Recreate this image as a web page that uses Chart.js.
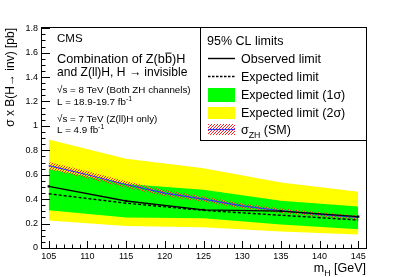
<!DOCTYPE html>
<html>
<head>
<meta charset="utf-8">
<script src="https://cdn.jsdelivr.net/npm/chart.js@4/dist/chart.umd.min.js"></script>
<style>
  html, body { margin: 0; padding: 0; background: #fff; }
  canvas { display: block; }
</style>
</head>
<body>
<canvas id="c" width="407" height="277"></canvas>
<script>
// values
const masses = [105, 115, 125, 135, 145];
const observed = [0.505, 0.385, 0.312, 0.302, 0.257];
const expected = [0.444, 0.367, 0.308, 0.268, 0.229];
const oneSigmaUp = [0.647, 0.525, 0.477, 0.386, 0.34];
const oneSigmaDown = [0.31, 0.25, 0.244, 0.192, 0.154];
const twoSigmaUp = [0.888, 0.73, 0.653, 0.537, 0.46];
const twoSigmaDown = [0.225, 0.18, 0.17, 0.135, 0.11];

const smMasses = [105, 110, 115, 120, 125, 130, 135, 140, 145];
const smXsec = [0.675, 0.6, 0.52, 0.45, 0.4, 0.345, 0.305, 0.275, 0.25];
const smUnc = [0.03, 0.028, 0.026, 0.024, 0.022, 0.02, 0.018, 0.017, 0.016];

const xTicks = [105, 110, 115, 120, 125, 130, 135, 140, 145];
const yTicks = [0, 0.2, 0.4, 0.6, 0.8, 1, 1.2, 1.4, 1.6, 1.8];

const FONT = '"Liberation Sans", Arial, sans-serif';

const pts = (xs, ys) => xs.map((x, i) => ({ x, y: ys[i] }));

// red "////" hatch, built pixel by pixel so it stays crisp
function hatch() {
  const n = 3;
  const c = document.createElement('canvas');
  c.width = n; c.height = n;
  const g = c.getContext('2d');
  const img = g.createImageData(n, n);
  for (let yy = 0; yy < n; yy++) {
    for (let xx = 0; xx < n; xx++) {
      if ((xx + yy) % n === n - 1) {
        const k = (yy * n + xx) * 4;
        img.data[k] = 255; img.data[k + 1] = 30; img.data[k + 2] = 30; img.data[k + 3] = 255;
      }
    }
  }
  g.putImageData(img, 0, 0);
  return g.createPattern(c, 'repeat');
}

// text with sub/superscripts and overline, left aligned at x
function rich(ctx, x, y, parts, size) {
  let cx = x;
  parts.forEach(p => {
    const s = p.sub || p.sup ? size * 0.7 : size;
    ctx.font = `${s}px ${FONT}`;
    let dy = 0;
    if (p.sub) dy = size * 0.3;
    if (p.sup) dy = -size * 0.4;
    ctx.fillText(p.t, cx, y + dy);
    const w = ctx.measureText(p.t).width;
    if (p.over) {
      ctx.fillRect(cx + 0.5, y - size * 0.82, w - 1, 1);
    }
    cx += w;
  });
  return cx;
}

function richWidth(ctx, parts, size) {
  let w = 0;
  parts.forEach(p => {
    const s = p.sub || p.sup ? size * 0.7 : size;
    ctx.font = `${s}px ${FONT}`;
    w += ctx.measureText(p.t).width;
  });
  return w;
}

const decor = {
  id: 'decor',
  afterDraw(chart) {
    const { ctx, chartArea: a, scales: { x, y } } = chart;
    ctx.save();
    ctx.fillStyle = '#000';
    ctx.strokeStyle = '#000';

    // frame
    ctx.lineWidth = 1;
    ctx.strokeRect(Math.round(a.left) + 0.5, Math.round(a.top) + 0.5,
      Math.round(a.right - a.left), Math.round(a.bottom - a.top));

    // x ticks
    ctx.beginPath();
    for (let v = Math.ceil(x.min); v <= x.max; v++) {
      const px = Math.round(x.getPixelForValue(v)) + 0.5;
      const len = v % 5 === 0 ? 7 : 3.5;
      ctx.moveTo(px, a.bottom);
      ctx.lineTo(px, a.bottom - len);
    }
    // y ticks
    for (let v = 0; v <= y.max + 1e-6; v += 0.05) {
      const py = Math.round(y.getPixelForValue(v)) + 0.5;
      const major = Math.abs(v / 0.2 - Math.round(v / 0.2)) < 1e-6;
      ctx.moveTo(a.left, py);
      ctx.lineTo(a.left + (major ? 9 : 4.5), py);
    }
    ctx.stroke();

    ctx.font = `9px ${FONT}`;
    ctx.textAlign = 'center';
    ctx.textBaseline = 'top';
    xTicks.forEach(v => ctx.fillText(String(v), x.getPixelForValue(v), a.bottom + 4));
    ctx.textAlign = 'right';
    ctx.textBaseline = 'middle';
    yTicks.forEach(v => ctx.fillText(String(v), a.left - 3, y.getPixelForValue(v)));

    // axis titles
    ctx.textBaseline = 'alphabetic';
    ctx.textAlign = 'left';
    const xt = [{ t: 'm' }, { t: 'H', sub: true }, { t: ' [GeV]' }];
    rich(ctx, a.right - richWidth(ctx, xt, 12.5), 272, xt, 12.5);

    ctx.save();
    ctx.translate(14, a.top + 1);
    ctx.rotate(-Math.PI / 2);
    const yt = [{ t: 'σ x B(H→ inv) [pb]' }];
    rich(ctx, -richWidth(ctx, yt, 12), 0, yt, 12);
    ctx.restore();

    // text block
    rich(ctx, 57, 42, [{ t: 'CMS' }], 11.5);
    rich(ctx, 57, 63, [{ t: 'Combination of Z(b' }, { t: 'b', over: true }, { t: ')H' }], 12.7);
    rich(ctx, 57, 75.5, [{ t: 'and Z(ll)H, H → invisible' }], 12.1);
    rich(ctx, 57, 93, [{ t: '√s = 8 TeV (Both ZH channels)' }], 9.8);
    rich(ctx, 57, 105, [{ t: 'L = 18.9-19.7 fb' }, { t: '-1', sup: true }], 9.8);
    rich(ctx, 57, 121.5, [{ t: '√s = 7 TeV (Z(ll)H only)' }], 9.8);
    rich(ctx, 57, 133, [{ t: 'L = 4.9 fb' }, { t: '-1', sup: true }], 9.8);

    // legend
    const lx = 200, ly = Math.round(a.top) + 0.5, lr = Math.round(a.right) + 0.5, lb = 140.5;
    ctx.fillStyle = '#fff';
    ctx.fillRect(lx, ly, lr - lx, lb - ly);
    ctx.strokeStyle = '#000';
    ctx.lineWidth = 1;
    ctx.strokeRect(lx + 0.5, ly, lr - lx - 0.5, lb - ly);
    ctx.fillStyle = '#000';
    rich(ctx, 207, 45, [{ t: '95% CL limits' }], 12.5);

    const sx0 = 208, sx1 = 235, tx = 241;
    ctx.lineWidth = 1.4;
    ctx.beginPath(); ctx.moveTo(sx0, 58.5); ctx.lineTo(sx1, 58.5); ctx.stroke();
    ctx.setLineDash([2.5, 1.5]);
    ctx.beginPath(); ctx.moveTo(sx0, 76.5); ctx.lineTo(sx1, 76.5); ctx.stroke();
    ctx.setLineDash([]);
    ctx.fillStyle = '#00ff00'; ctx.fillRect(sx0, 88, sx1 - sx0, 14);
    ctx.fillStyle = '#ffff00'; ctx.fillRect(sx0, 107, sx1 - sx0, 12);
    ctx.fillStyle = hatch(); ctx.fillRect(sx0, 124, sx1 - sx0, 11);
    ctx.strokeStyle = '#3030ff'; ctx.lineWidth = 1.2;
    ctx.beginPath(); ctx.moveTo(sx0, 129.5); ctx.lineTo(sx1, 129.5); ctx.stroke();

    ctx.fillStyle = '#000';
    rich(ctx, tx, 63, [{ t: 'Observed limit' }], 12.5);
    rich(ctx, tx, 81, [{ t: 'Expected limit' }], 12.5);
    rich(ctx, tx, 99, [{ t: 'Expected limit (1σ)' }], 12.5);
    rich(ctx, tx, 117, [{ t: 'Expected limit (2σ)' }], 12.5);
    rich(ctx, tx, 134, [{ t: 'σ' }, { t: 'ZH', sub: true }, { t: ' (SM)' }], 12.5);

    ctx.restore();
  },
};

const band = (ys, color, fill, order) => ({
  data: ys, borderWidth: 0, pointRadius: 0, backgroundColor: color,
  fill, order, tension: 0,
});

new Chart(document.getElementById('c'), {
  type: 'line',
  data: {
    datasets: [
      band(pts(masses, twoSigmaUp), '#ffff00', '+1', 10),
      band(pts(masses, twoSigmaDown), '#ffff00', false, 10),
      band(pts(masses, oneSigmaUp), '#00ff00', '+1', 8),
      band(pts(masses, oneSigmaDown), '#00ff00', false, 8),
      band(pts(smMasses, smXsec.map((v, i) => v + smUnc[i])), hatch(), '+1', 6),
      band(pts(smMasses, smXsec.map((v, i) => v - smUnc[i])), 'rgba(0,0,0,0)', false, 6),
      {
        data: pts(smMasses, smXsec), borderColor: '#3030ff', borderWidth: 1.2,
        pointRadius: 0, fill: false, order: 4, tension: 0,
      },
      {
        data: pts(masses, expected), borderColor: '#000', borderWidth: 1.4,
        borderDash: [3, 2], pointRadius: 0, fill: false, order: 2, tension: 0,
      },
      {
        data: pts(masses, observed), borderColor: '#000', borderWidth: 1.4,
        pointStyle: 'rect', pointRadius: 1.6, pointBackgroundColor: '#000',
        pointBorderWidth: 0, fill: false, order: 1, tension: 0,
      },
    ],
  },
  options: {
    responsive: false,
    animation: false,
    events: [],
    layout: { padding: { left: 41, right: 41, top: 27, bottom: 29 } },
    plugins: { legend: { display: false }, tooltip: { enabled: false } },
    scales: {
      x: { type: 'linear', min: 104, max: 146, display: false },
      y: { type: 'linear', min: 0, max: 1.81, display: false },
    },
  },
  plugins: [decor],
});
</script>
</body>
</html>
